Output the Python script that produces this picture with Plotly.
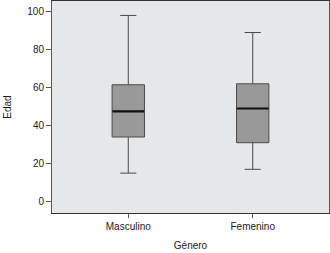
import plotly.graph_objects as go

categories = ["Masculino", "Femenino"]
lower_whisker = [15, 17]
q1_vals = [34, 31]
median_vals = [47.5, 49]
q3_vals = [61.5, 62]
upper_whisker = [98, 89]

x_title = "Género"
y_title = "Edad"
y_ticks = [0, 20, 40, 60, 80, 100]

FONT = "Liberation Sans, Arial, Helvetica, sans-serif"

fig = go.Figure()
fig.add_trace(go.Box(
    x=categories, q1=q1_vals, median=median_vals, q3=q3_vals,
    lowerfence=lower_whisker, upperfence=upper_whisker,
    fillcolor="#999999", line=dict(color="#4a4a4a", width=1),
    width=0.26, whiskerwidth=0.5, boxpoints=False, hoverinfo="skip",
    showlegend=False,
))
# thicker median line
fig.add_trace(go.Box(
    x=categories, q1=median_vals, median=median_vals, q3=median_vals,
    lowerfence=median_vals, upperfence=median_vals,
    fillcolor="rgba(0,0,0,0)", line=dict(color="#111111", width=2.2),
    width=0.255, whiskerwidth=0, boxpoints=False, hoverinfo="skip",
    showlegend=False,
))

fig.update_layout(
    width=330, height=253,
    margin=dict(l=52, r=1, t=1, b=40, autoexpand=False),
    paper_bgcolor="white", plot_bgcolor="#e6e7e8",
    boxmode="overlay",
    font=dict(family=FONT, size=10, color="#222222"),
    xaxis=dict(
        range=[-0.613, 1.613], showline=True, linecolor="#333333", linewidth=1.2,
        mirror=True, ticks="outside", ticklen=4, tickcolor="#555555",
        showgrid=False, zeroline=False, automargin=False,
        title=dict(text=x_title, standoff=10, font=dict(size=10)),
    ),
    yaxis=dict(
        range=[-6, 105.6], tickvals=y_ticks, showline=True, linecolor="#555555",
        linewidth=1, mirror=True, ticks="outside", ticklen=5, tickcolor="#555555",
        showgrid=False, zeroline=False, automargin=False,
        title=dict(text=y_title, standoff=13, font=dict(size=10)),
    ),
)

fig.write_html(
    "out.html",
    config={"displayModeBar": False, "staticPlot": True},
    post_script="document.body.style.margin='0';document.body.style.overflow='hidden';",
)
